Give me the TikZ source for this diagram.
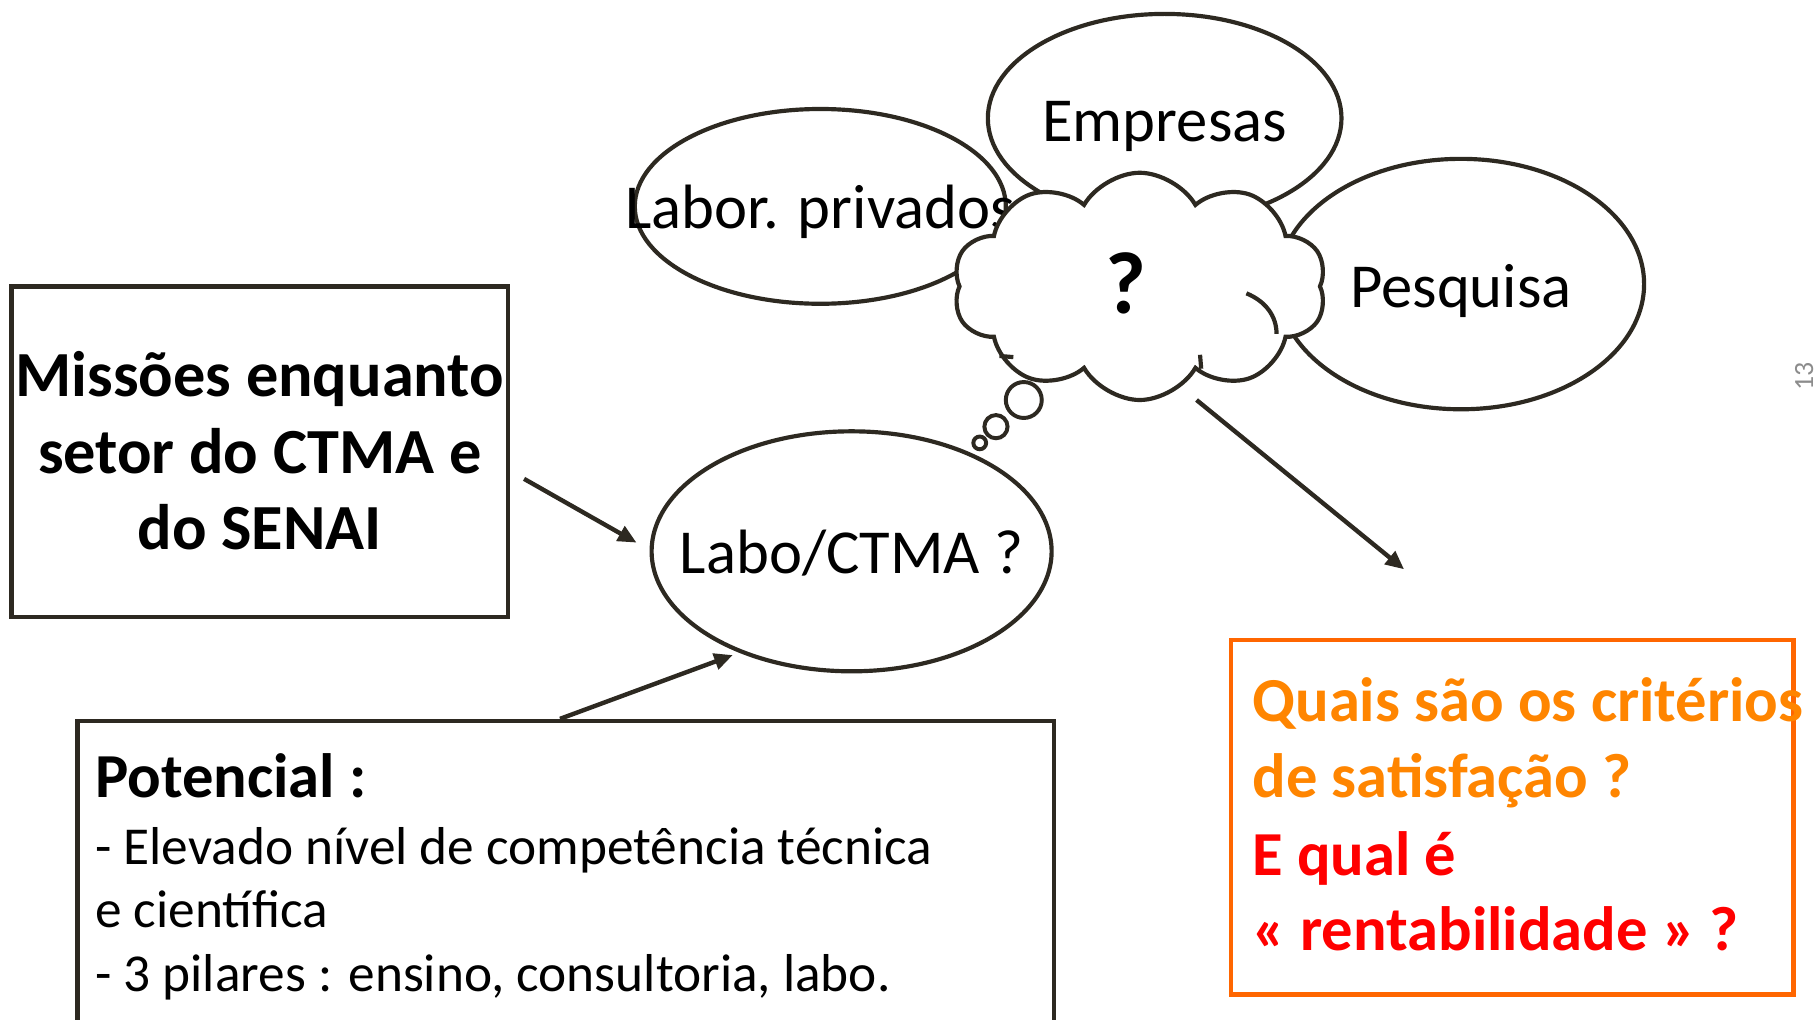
\documentclass[tikz,border=0pt]{standalone}
\usepackage{fontspec}
\setmainfont{Carlito}
\usetikzlibrary{shapes.geometric,shapes.symbols,arrows.meta}
\definecolor{ink}{RGB}{45,41,33}
\definecolor{orbox}{RGB}{255,102,0}
\definecolor{ortext}{RGB}{255,133,0}
\definecolor{redtext}{RGB}{255,0,0}
\tikzset{
  oval/.style={ellipse, draw=ink, line width=3.6pt, fill=white, inner sep=0pt},
  big/.style={font=\fontsize{54}{66}\selectfont, anchor=base, inner sep=0pt},
  bigb/.style={font=\fontsize{54}{66}\selectfont\bfseries, anchor=base, inner sep=0pt},
  bigbl/.style={font=\fontsize{55.5}{66}\selectfont\bfseries, anchor=base, inner sep=0pt},
  body/.style={font=\fontsize{46}{54}\selectfont, anchor=base west, inner sep=0pt},
  arr/.style={draw=ink, line width=3.8pt, -{Triangle[length=16pt,width=14pt]}},
  frame/.style={draw=ink, line width=4pt, inner sep=0pt},
  tick/.style={draw=ink, line width=3.6pt},
}
\begin{document}
\begin{tikzpicture}[x=1pt,y=-1pt]
\useasboundingbox (0,0) rectangle (1568,879.7);

% left box
\node[frame, rectangle, minimum width=428pt, minimum height=285pt] (mbox) at (224,389.5) {};
\node[bigbl, anchor=base] (m1) at (224,342) {Missões enquanto};
\node[bigbl, anchor=base] (m2) at (224,408) {setor do CTMA e};
\node[bigbl, anchor=base] (m3) at (224,474) {do SENAI};

% ellipses
\node[oval, minimum width=320pt, minimum height=168pt] (lab) at (707.5,178) {};
\node[big] (labt) at (707.5,197) {Labor. privados};
\node[oval, minimum width=305pt, minimum height=180pt] (emp) at (1004.5,102) {};
\node[big] (empt) at (1004.5,122) {Empresas};
\node[oval, minimum width=316pt, minimum height=216pt] (pes) at (1260,245) {};
\node[big] (pest) at (1260,265) {Pesquisa};
\node[oval, minimum width=345pt, minimum height=207pt] (labo) at (734.5,475.5) {};
\node[big] (labot) at (734.5,495) {Labo/CTMA ?};

% cloud
\node[cloud, cloud puffs=10, cloud puff arc=120, aspect=1.64, draw=ink, fill=white,
      line width=3.6pt, minimum width=322pt, minimum height=196pt, inner sep=0pt] (cl) at (983,247) {};
\node[font=\fontsize{76}{80}\selectfont\bfseries, anchor=base, inner sep=0pt] (q) at (971,270) {?};
% inner strokes of the cloud
\draw[tick] (1075,253) .. controls (1092,260) and (1101,273) .. (1101,288);
\draw[tick] (1035,306) -- (1036,318);
\draw[tick] (874,308) -- (862,307);

% thought bubbles
\node[circle, draw=ink, fill=white, line width=3.4pt, minimum size=31pt, inner sep=0pt] (b1) at (883,345) {};
\node[circle, draw=ink, fill=white, line width=3.4pt, minimum size=20pt, inner sep=0pt] (b2) at (859,368) {};
\node[circle, draw=ink, fill=white, line width=3.4pt, minimum size=11pt, inner sep=0pt] (b3) at (845,382) {};

% potencial box
\node[frame, rectangle, minimum width=842pt, minimum height=320pt, anchor=north west] (pot) at (65,620) {};
\node[bigb, anchor=base west] (p0) at (82,688) {Potencial :};
\node[body] (p1) at (82,746) {- Elevado nível de competência técnica};
\node[body] (p2) at (82,800) {e científica};
\node[body] (p3) at (82,855) {- 3 pilares : ensino, consultoria, labo.};

% orange box
\node[draw=orbox, line width=3.8pt, rectangle, minimum width=485pt, minimum height=306pt, anchor=north west, inner sep=0pt] (qbox) at (1060,550) {};
\node[bigb, anchor=base west, text=ortext] (o1) at (1080,622) {Quais são os critérios};
\node[bigb, anchor=base west, text=ortext] (o2) at (1080,688) {de satisfação ?};
\node[bigb, anchor=base west, text=redtext] (o3) at (1080,755) {E qual é};
\node[bigb, anchor=base west, text=redtext] (o4) at (1080,820) {« rentabilidade » ?};

% page number
\node[rotate=90, text=black!45, font=\fontsize{24}{28}\selectfont, inner sep=0pt] (pg) at (1556,325) {13};

% arrows
\coordinate (a1s) at (452,413);
\coordinate (a1e) at (549,468);
\coordinate (a2s) at (483,620);
\coordinate (a2e) at (632,565);
\coordinate (a3s) at (1032,345);
\coordinate (a3e) at (1211,491);
\draw[arr] (a1s) -- (a1e);
\draw[arr] (a2s) -- (a2e);
\draw[arr] (a3s) -- (a3e);
\end{tikzpicture}
\end{document}
